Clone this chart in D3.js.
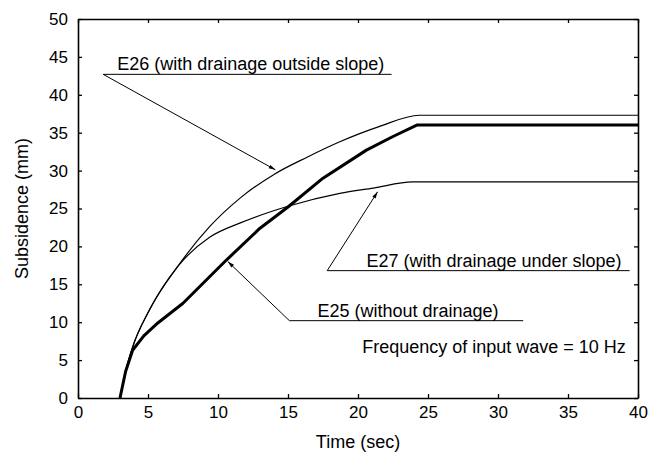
<!DOCTYPE html>
<html>
<head>
<meta charset="utf-8">
<script src="https://cdn.jsdelivr.net/npm/d3@7"></script>
<style>
  html, body { margin: 0; padding: 0; background: #fff; }
  svg text { font-family: "Liberation Sans", Arial, Helvetica, sans-serif; fill: #000; }
</style>
</head>
<body>
<svg id="chart" width="661" height="468"></svg>
<script>
// ---- data ----
const xTicks = [0, 5, 10, 15, 20, 25, 30, 35, 40];
const yTicks = [0, 5, 10, 15, 20, 25, 30, 35, 40, 45, 50];

const e25Time = [3.0, 3.4, 3.9, 4.7, 5.7, 7.5, 10.6, 13, 15, 17.5, 20.6, 22.5, 24.2, 40];
const e25Value = [0, 3.5, 6.3, 8.2, 9.9, 12.5, 18.2, 22.4, 25.2, 29, 32.7, 34.5, 36, 36];

const e26Time = [3.0, 3.4, 3.9, 5.1, 7.1, 9.4, 11.6, 14, 16.4, 18.7, 21.5, 24.4, 40];
const e26Value = [0, 3.5, 6.7, 11.6, 17.3, 22.6, 26.4, 29.5, 31.8, 33.8, 35.8, 37.3, 37.3];

const e27Time = [3.0, 3.4, 3.9, 5.1, 7.1, 9.4, 11.6, 15, 18.7, 21.1, 23.9, 40];
const e27Value = [0, 3.5, 6.7, 11.6, 17.3, 21.2, 23.1, 25.3, 27, 27.7, 28.5, 28.5];

const labels = [
  "E25 (without drainage)",
  "E26 (with drainage outside slope)",
  "E27 (with drainage under slope)"
];
const note = "Frequency of input wave = 10 Hz";

// ---- layout ----
const svg = d3.select("#chart");
const margin = { left: 78, right: 23, top: 19, bottom: 70 };
const W = 661, H = 468;
const x = d3.scaleLinear().domain([0, 40]).range([margin.left, W - margin.right]);
const y = d3.scaleLinear().domain([0, 50]).range([H - margin.bottom, margin.top]);

const tickLen = 4;
const fsTick = 17;
const fs = 18;

// axes (ticks inward)
const gx = svg.append("g").attr("transform", `translate(0,${y(0)})`)
  .call(d3.axisBottom(x).tickValues(xTicks).tickSizeInner(-tickLen).tickSizeOuter(0).tickPadding(8));
const gy = svg.append("g").attr("transform", `translate(${x(0)},0)`)
  .call(d3.axisLeft(y).tickValues(yTicks).tickSizeInner(-tickLen).tickSizeOuter(0).tickPadding(10));
const gt = svg.append("g").attr("transform", `translate(0,${y(50)})`)
  .call(d3.axisTop(x).tickValues(xTicks).tickSizeInner(-tickLen).tickSizeOuter(0).tickFormat(""));
const gr = svg.append("g").attr("transform", `translate(${x(40)},0)`)
  .call(d3.axisRight(y).tickValues(yTicks).tickSizeInner(-tickLen).tickSizeOuter(0).tickFormat(""));

[gx, gy, gt, gr].forEach(g => {
  g.select(".domain").attr("stroke", "#000").attr("stroke-width", 1.6);
  g.selectAll(".tick line").attr("stroke", "#000").attr("stroke-width", 1.3);
  g.selectAll(".tick text").attr("font-size", fsTick).attr("font-family", "Liberation Sans, Arial, sans-serif").attr("fill", "#000");
});

// axis titles
svg.append("text").attr("x", x(20)).attr("y", y(0) + 50)
  .attr("text-anchor", "middle").attr("font-size", fs).text("Time (sec)");
svg.append("text")
  .attr("transform", `translate(${x(0) - 50},${y(25)}) rotate(-90)`)
  .attr("text-anchor", "middle").attr("font-size", fs).text("Subsidence (mm)");

// curves
const smooth = d3.line().x(d => x(d[0])).y(d => y(d[1])).curve(d3.curveMonotoneX);
const straight = d3.line().x(d => x(d[0])).y(d => y(d[1])).curve(d3.curveLinear);
const series = [
  { name: "E25", pts: d3.zip(e25Time, e25Value), w: 3, gen: straight },
  { name: "E26", pts: d3.zip(e26Time, e26Value), w: 1.2, gen: smooth },
  { name: "E27", pts: d3.zip(e27Time, e27Value), w: 1.2, gen: smooth }
];
svg.append("g").selectAll("path").data(series).join("path")
  .attr("d", d => d.gen(d.pts))
  .attr("fill", "none").attr("stroke", "#000")
  .attr("stroke-width", d => d.w).attr("stroke-linejoin", "round");

// annotations: underline start [t, v], underline end t, arrow tip [t, v], text start t
const annE26 = { from: [1.8, 42.7], toT: 22.4, tip: [14.1, 30.1], textT: 2.8 };
const annE27 = { from: [17.8, 16.8], toT: 39.4, tip: [21.4, 27.2], textT: 20.6 };
const annE25 = { from: [15.1, 10.2], toT: 31.8, tip: [10.7, 18.0], textT: 17.1 };
const noteAt = [20.3, 6.0];

const ann = svg.append("g");
function annotate(a, text) {
  ann.append("line")
    .attr("x1", x(a.from[0])).attr("y1", y(a.from[1]))
    .attr("x2", x(a.toT)).attr("y2", y(a.from[1]))
    .attr("stroke", "#000").attr("stroke-width", 1);
  const x1 = x(a.from[0]), y1 = y(a.from[1]), x2 = x(a.tip[0]), y2 = y(a.tip[1]);
  ann.append("line")
    .attr("x1", x1).attr("y1", y1).attr("x2", x2).attr("y2", y2)
    .attr("stroke", "#000").attr("stroke-width", 1);
  const ang = Math.atan2(y2 - y1, x2 - x1);
  const L = 7, spread = 0.28;
  const p1 = [x2 - L * Math.cos(ang - spread), y2 - L * Math.sin(ang - spread)];
  const p2 = [x2 - L * Math.cos(ang + spread), y2 - L * Math.sin(ang + spread)];
  ann.append("path").attr("d", `M${x2},${y2}L${p1[0]},${p1[1]}L${p2[0]},${p2[1]}Z`).attr("fill", "#000");
  ann.append("text").attr("x", x(a.textT)).attr("y", y(a.from[1]) - 4)
    .attr("font-size", fs).text(text);
}
annotate(annE26, labels[1]);
annotate(annE27, labels[2]);
annotate(annE25, labels[0]);

ann.append("text").attr("x", x(noteAt[0])).attr("y", y(noteAt[1]))
  .attr("font-size", fs).text(note);
</script>
</body>
</html>
